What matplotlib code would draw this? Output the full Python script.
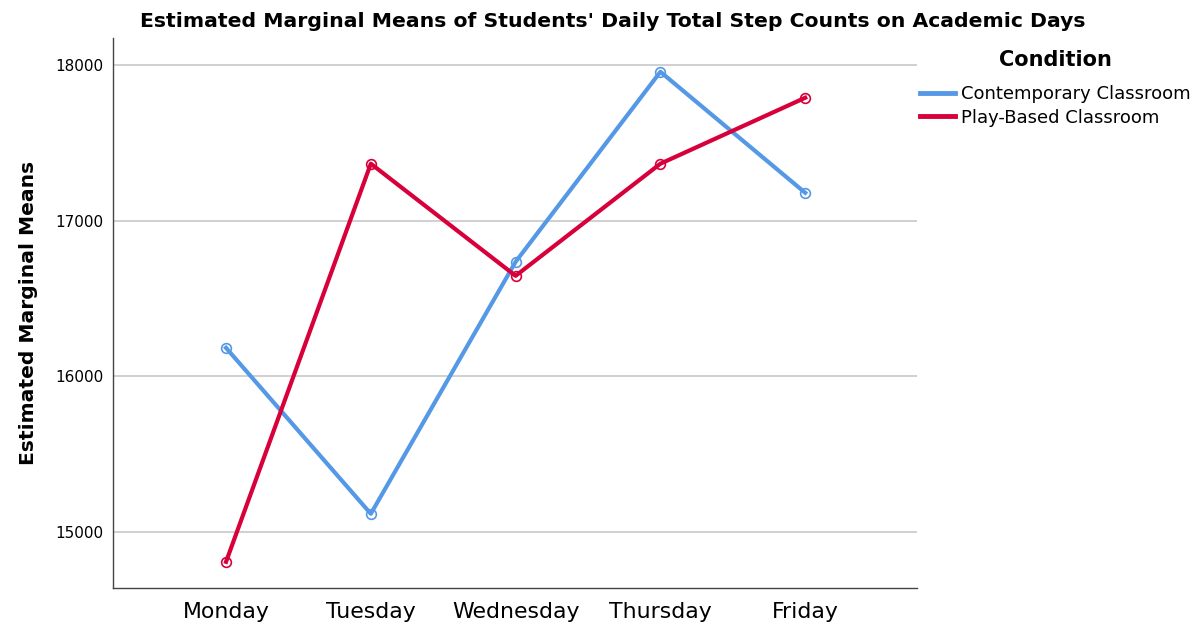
import matplotlib.pyplot as plt
from matplotlib.lines import Line2D

days = ["Monday", "Tuesday", "Wednesday", "Thursday", "Friday"]
contemporary = [16183, 15116, 16736, 17958, 17180]
play_based = [14807, 17367, 16646, 17367, 17791]
y_ticks = [15000, 16000, 17000, 18000]

blue = "#5599e6"
red = "#d8003a"

fig = plt.figure(figsize=(12.03, 6.26), dpi=100)
ax = fig.add_axes([0.094, 0.061, 0.668, 0.878])

x = range(len(days))
ax.plot(x, contemporary, color=blue, linewidth=3, marker="o", markersize=7,
        markerfacecolor="none", markeredgewidth=1.2)
ax.plot(x, play_based, color=red, linewidth=3, marker="o", markersize=7,
        markerfacecolor="none", markeredgewidth=1.2)

ax.set_xlim(-0.78, 4.77)
ax.set_ylim(14640, 18174)
ax.set_xticks(list(x))
ax.set_xticklabels(days, fontsize=15.8)
ax.set_yticks(y_ticks)
ax.set_yticklabels([str(t) for t in y_ticks], fontsize=11)
ax.tick_params(length=0, pad=7)
ax.tick_params(axis="x", pad=10)

ax.grid(axis="y", color="#c8c8c8", linewidth=1.2)
ax.set_axisbelow(True)
for side in ["top", "right"]:
    ax.spines[side].set_visible(False)
for side in ["left", "bottom"]:
    ax.spines[side].set_color("#444444")
    ax.spines[side].set_linewidth(1)

ax.set_ylabel("Estimated Marginal Means", fontsize=14.6, fontweight="bold", labelpad=12)
fig.text(0.509, 0.966, "Estimated Marginal Means of Students' Daily Total Step Counts on Academic Days",
         ha="center", va="center", fontsize=14.7, fontweight="bold")

# legend shows plain line samples, no markers
handles = [Line2D([], [], color=blue, linewidth=3.5),
           Line2D([], [], color=red, linewidth=3.5)]
leg = ax.legend(handles, ["Contemporary Classroom", "Play-Based Classroom"],
                loc="upper left", bbox_to_anchor=(1.0, 0.985), frameon=False,
                fontsize=13, title="Condition", handlelength=1.9, handletextpad=0.35,
                labelspacing=0.3, borderaxespad=0.0, borderpad=0.2)
leg.get_title().set_fontsize(15)
leg.get_title().set_fontweight("bold")
leg._legend_box.align = "center"
leg._legend_box.sep = 11

fig.savefig("out.png", dpi=100)
